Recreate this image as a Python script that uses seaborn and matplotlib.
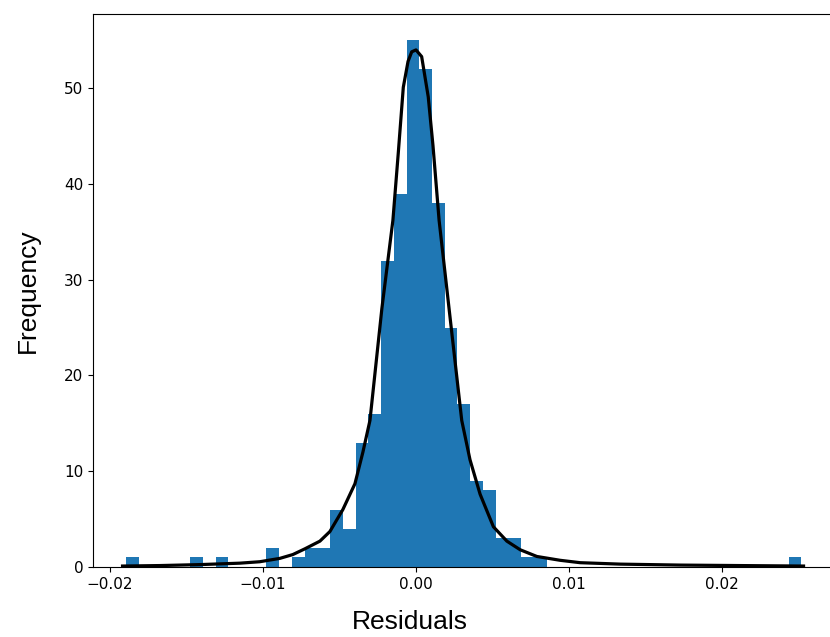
import numpy as np
import pandas as pd
import matplotlib
matplotlib.use("Agg")
import matplotlib.pyplot as plt
import seaborn as sns

# Histogram: 53 equal bins between these limits, counts
bin_lo = -0.01893
bin_hi = 0.02518
counts = [1, 0, 0, 0, 0, 1, 0, 1, 0, 0,
          0, 2, 0, 1, 2, 2, 6, 4, 13, 16,
          32, 39, 55, 52, 38, 25, 17, 9, 8, 3,
          3, 1, 1, 0, 0, 0, 0, 0, 0, 0,
          0, 0, 0, 0, 0, 0, 0, 0, 0, 0,
          0, 0, 1]

# Fitted density curve (scaled to counts)
curve_x = [-0.01918, -0.01675, -0.01414, -0.01152, -0.01021, -0.00890, -0.00805,
           -0.00726, -0.00628, -0.00563, -0.00478, -0.00399, -0.00347, -0.00301,
           -0.00223, -0.00151, -0.00116, -0.00083, -0.00052, -0.00028, 0.0,
           0.00037, 0.00080, 0.00111, 0.00151, 0.00216, 0.00299, 0.00353,
           0.00419, 0.00506, 0.00594, 0.00681, 0.00790, 0.00942, 0.01073,
           0.01335, 0.01728, 0.02120, 0.02533]
curve_y = [0.1, 0.15, 0.25, 0.4, 0.55, 0.9, 1.3,
           1.9, 2.7, 3.7, 6.0, 8.7, 12.0, 15.3,
           27.0, 36.2, 43.2, 50.1, 52.8, 53.8, 54.0,
           53.3, 49.1, 44.0, 36.2, 27.0, 15.3, 11.2,
           7.6, 4.2, 2.7, 1.8, 1.1, 0.7, 0.45,
           0.3, 0.2, 0.15, 0.1]

x_ticks = [-0.02, -0.01, 0.0, 0.01, 0.02]
y_ticks = [0, 10, 20, 30, 40, 50]

nbins = len(counts)
width = (bin_hi - bin_lo) / nbins
centers = [bin_lo + width * (i + 0.5) for i in range(nbins)]
hist_df = pd.DataFrame({"Residuals": centers, "count": counts})
curve_df = pd.DataFrame({"x": curve_x, "y": curve_y})

W, H = 830, 637
ax_l, ax_r, ax_t, ax_b = 93, 836, 14, 567
fig = plt.figure(figsize=(W / 100, H / 100), dpi=100)
ax = fig.add_axes([ax_l / W, 1 - ax_b / H, (ax_r - ax_l) / W, (ax_b - ax_t) / H])

sns.histplot(data=hist_df, x="Residuals", weights="count", bins=nbins,
             binrange=(bin_lo, bin_hi),
             color="#1f77b4", alpha=1.0, linewidth=0, ax=ax)
sns.lineplot(data=curve_df, x="x", y="y", color="black", linewidth=2.3, ax=ax)

# pixel scale of the reference: 0.01 per 153 px, 0 at x=416
px_per_unit = 15300.0
ax.set_xlim(-0.02 - (110 - ax_l) / px_per_unit, 0.02 + (ax_r - 722) / px_per_unit)
ax.set_ylim(0, 57.75)
ax.set_xticks(x_ticks)
ax.set_yticks(y_ticks)
ax.tick_params(labelsize=11)

lab_font = dict(family=["Liberation Sans", "DejaVu Sans"], size=19)
ax.set_xlabel("Residuals", **lab_font)
ax.set_ylabel("Frequency", **lab_font)
aw = ax_r - ax_l
ah = ax_b - ax_t
ax.xaxis.set_label_coords((410 - ax_l) / aw, (ax_b - 610) / ah)
ax.yaxis.set_label_coords((40 - ax_l) / aw, 0.5)

fig.savefig("out.png", dpi=100)
